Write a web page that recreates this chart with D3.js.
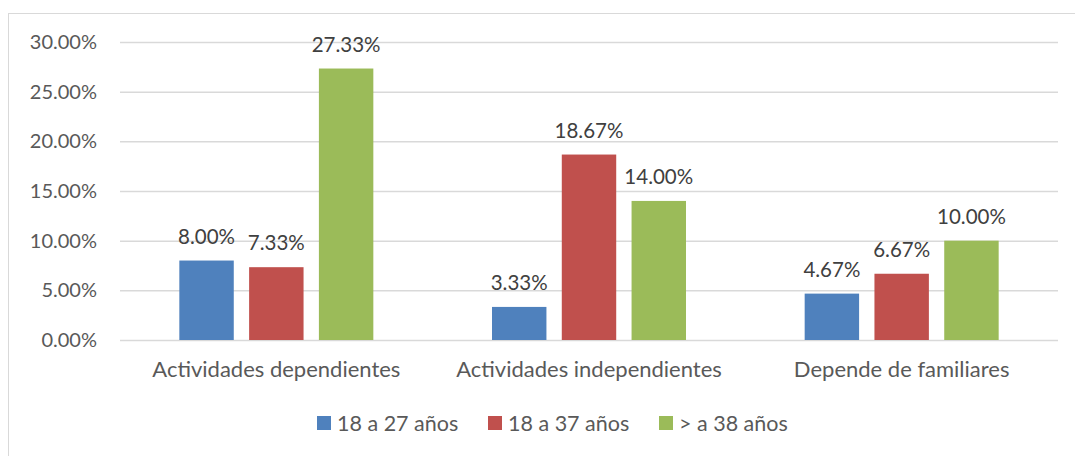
<!DOCTYPE html>
<html>
<head>
<meta charset="utf-8">
<script src="https://cdn.jsdelivr.net/npm/d3@7"></script>
<style>
  body { margin: 0; background: #fff; }
  text { font-family: Lato, "Open Sans", sans-serif; }
</style>
</head>
<body>
<div id="chart"></div>
<script>
const categories = ["Actividades dependientes", "Actividades independientes", "Depende de familiares"];
const seriesNames = ["18 a 27 años", "18 a 37 años", "> a 38 años"];
const seriesColors = ["#4f81bd", "#c0504d", "#9bbb59"];
const values1827 = [8.00, 3.33, 4.67];
const values1837 = [7.33, 18.67, 6.67];
const values38 = [27.33, 14.00, 10.00];
const yTicks = [0, 5, 10, 15, 20, 25, 30];

const seriesValues = [values1827, values1837, values38];

const W = 1075, H = 456;
const margin = {top: 42, left: 120, right: 17, bottom: 116};
const width = W - margin.left - margin.right;
const height = H - margin.top - margin.bottom;

const svg = d3.select("#chart").append("svg")
    .attr("width", W)
    .attr("height", H);

// Chart frame
svg.append("rect")
    .attr("x", 8.5).attr("y", 13.5)
    .attr("width", W - 8).attr("height", H)
    .attr("fill", "none")
    .attr("stroke", "#d9d9d9")
    .attr("stroke-width", 1);

const g = svg.append("g")
    .attr("transform", `translate(${margin.left},${margin.top})`);

const x = d3.scaleBand()
    .domain(categories)
    .range([0, width]);

const x1 = d3.scaleBand()
    .domain(seriesNames)
    .range([x.bandwidth() / 2 - 97, x.bandwidth() / 2 + 97])
    .paddingInner(0.22);

const y = d3.scaleLinear()
    .domain([0, 30])
    .range([height, 0]);

// Gridlines + y labels
g.append("g")
    .call(d3.axisLeft(y).tickValues(yTicks).tickSize(-width).tickFormat(d => d.toFixed(2) + "%"))
    .call(s => s.select(".domain").remove())
    .call(s => s.selectAll("line").attr("stroke", "#d9d9d9").attr("stroke-width", 1.5))
    .call(s => s.selectAll("text")
        .attr("x", -23)
        .attr("fill", "#595959")
        .style("font-size", "20px"));

// Bars
const groups = g.selectAll(".grp")
    .data(categories)
    .enter().append("g")
    .attr("transform", d => `translate(${x(d)},0)`);

groups.selectAll("rect")
    .data((d, i) => seriesNames.map((s, j) => ({s, j, v: seriesValues[j][i]})))
    .enter().append("rect")
    .attr("x", d => x1(d.s))
    .attr("width", x1.bandwidth())
    .attr("y", d => y(d.v))
    .attr("height", d => height - y(d.v))
    .attr("fill", d => seriesColors[d.j]);

groups.selectAll(".lbl")
    .data((d, i) => seriesNames.map((s, j) => ({s, j, v: seriesValues[j][i]})))
    .enter().append("text")
    .attr("x", d => x1(d.s) + x1.bandwidth() / 2)
    .attr("y", d => y(d.v) - 17)
    .attr("text-anchor", "middle")
    .attr("fill", "#404040")
    .style("font-size", "20.5px")
    .text(d => d.v.toFixed(2) + "%");

// Category labels
g.append("g")
    .attr("transform", `translate(0,${height})`)
    .call(d3.axisBottom(x).tickSize(0))
    .call(s => s.select(".domain").remove())
    .call(s => s.selectAll("text")
        .attr("dy", 0)
        .attr("y", 37)
        .attr("fill", "#595959")
        .style("font-size", "22px"));

// Legend
const legendX = [317, 488, 659];
const legend = svg.append("g");
seriesNames.forEach((name, i) => {
    const item = legend.append("g").attr("transform", `translate(${legendX[i]},416)`);
    item.append("rect")
        .attr("width", 14).attr("height", 14)
        .attr("fill", seriesColors[i]);
    item.append("text")
        .attr("x", 20).attr("y", 15)
        .attr("fill", "#595959")
        .style("font-size", "21.5px")
        .text(name);
});
</script>
</body>
</html>
